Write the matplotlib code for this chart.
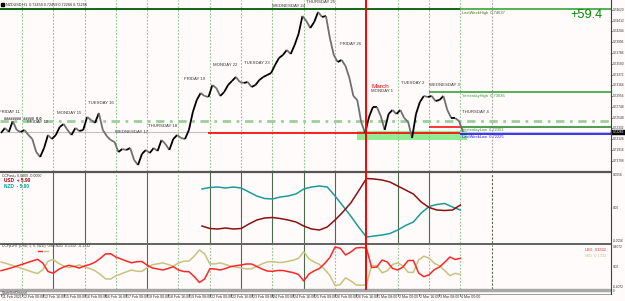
import matplotlib
matplotlib.use("Agg")
import matplotlib.pyplot as plt
import matplotlib.transforms as mtransforms
from matplotlib.patches import Rectangle
from matplotlib.collections import LineCollection
from matplotlib.lines import Line2D
import numpy as np

plt.rcParams['font.family'] = ['Liberation Sans', 'DejaVu Sans']

# ---------------- data ----------------
# NZDUSD H1, one close every 3 hours, starting 11 Feb 2021 08:00
close_step_bars = 3
closes = [
    0.72244, 0.72340, 0.72263, 0.72475, 0.72302, 0.72263, 0.72302, 0.72205, 0.72128, 0.71877,
    0.71781, 0.71954, 0.72205, 0.72128, 0.72205, 0.72360, 0.72417, 0.72302, 0.72205, 0.72340,
    0.72282, 0.72302, 0.72553, 0.72495, 0.72437, 0.72630, 0.72302, 0.72186, 0.72109, 0.72070,
    0.71877, 0.71935, 0.71916, 0.71954, 0.71723, 0.71626, 0.71839, 0.71916, 0.71858, 0.71954,
    0.71896, 0.72109, 0.72032, 0.71916, 0.72128, 0.72205, 0.72147, 0.72128, 0.72302, 0.72649,
    0.72881, 0.73016, 0.72958, 0.72939, 0.73170, 0.73112, 0.72958, 0.73035, 0.73170, 0.73248,
    0.73325, 0.73228, 0.73209, 0.73228, 0.73132, 0.73170, 0.73267, 0.73325, 0.73363, 0.73402,
    0.73556, 0.73691, 0.73749, 0.73845, 0.73769, 0.73942, 0.74155, 0.74502, 0.74405, 0.74270,
    0.74386, 0.74579, 0.74483, 0.74502, 0.74077, 0.73749, 0.73614, 0.73653, 0.73537, 0.73305,
    0.72958, 0.72881, 0.72456, 0.72244, 0.72553, 0.72746, 0.72746, 0.72572, 0.72302, 0.72611,
    0.72688, 0.72611, 0.72688, 0.72533, 0.72456, 0.72147, 0.72611, 0.72842, 0.72958, 0.72939,
    0.72958, 0.72861, 0.72881, 0.72958, 0.72688, 0.72533, 0.72533, 0.72475, 0.72263,
]

# CCFast panel (every 6 bars from bar 154)
ccf_start_bar = 154
ccf_step_bars = 6
ccf_usd = [
    -0.00288, -0.00328, -0.00336, -0.00320, -0.00336, -0.00328, -0.00256, -0.00192, -0.00160, -0.00152,
    -0.00168, -0.00192, -0.00224, -0.00288, -0.00336, -0.00352, -0.00304, -0.00192, -0.00064, 0.00080,
    0.00272, 0.00472, 0.00464, 0.00448, 0.00416, 0.00352, 0.00288, 0.00224, 0.00096, 0.00008,
    -0.00032, -0.00040, -0.00032, 0.00048,
]
ccf_nzd = [
    0.00304, 0.00328, 0.00336, 0.00320, 0.00336, 0.00320, 0.00256, 0.00192, 0.00152, 0.00144,
    0.00176, 0.00192, 0.00224, 0.00304, 0.00336, 0.00352, 0.00336, 0.00192, 0.00032, -0.00128,
    -0.00304, -0.00464, -0.00448, -0.00432, -0.00408, -0.00352, -0.00280, -0.00224, -0.00080, 0.00024,
    0.00056, 0.00072, 0.00016, -0.00032,
]

# CCFp oscillator panel (every 4 bars from bar 0)
osc_step_bars = 4
osc_usd = [
    -0.084, -0.056, -0.026, 0.008, 0.042, 0.076, 0.110, 0.144, 0.070, -0.100,
    -0.136, -0.060, -0.010, 0.024, 0.000, -0.030, 0.010, 0.040, 0.086, 0.160,
    0.250, 0.256, 0.190, 0.150, 0.110, 0.074, 0.096, 0.100, 0.026, -0.030,
    -0.050, -0.070, -0.040, -0.004, -0.070, -0.100, -0.104, -0.200, -0.320, -0.250,
    -0.046, -0.050, -0.070, -0.040, -0.002, 0.016, 0.030, 0.050, 0.050, 0.000,
    -0.050, -0.090, -0.096, -0.080, -0.080, -0.102, -0.124, -0.160, -0.290, -0.150,
    -0.086, -0.040, 0.060, 0.180, 0.390, 0.364, 0.230, 0.290, 0.370, 0.380,
    0.370, -0.020, -0.010, 0.130, 0.090, -0.038, -0.070, -0.010, 0.120, 0.120,
    -0.130, -0.204, -0.166, -0.064, -0.010, 0.084, 0.190, 0.140, 0.164,
]
osc_nzd = [
    0.090, 0.060, 0.030, -0.006, -0.040, -0.074, -0.110, -0.140, -0.066, 0.104,
    0.140, 0.064, 0.012, -0.022, 0.002, 0.032, -0.008, -0.040, -0.084, -0.156,
    -0.246, -0.252, -0.186, -0.148, -0.108, -0.070, -0.094, -0.098, -0.024, 0.034,
    0.054, 0.072, 0.042, 0.006, 0.072, 0.104, 0.108, 0.204, 0.330, 0.256,
    0.050, 0.052, 0.072, 0.042, 0.004, -0.014, -0.028, -0.048, -0.048, 0.002,
    0.052, 0.092, 0.098, 0.082, 0.082, 0.104, 0.126, 0.164, 0.296, 0.154,
    0.088, 0.042, -0.058, -0.176, -0.384, -0.360, -0.226, -0.286, -0.366, -0.376,
    -0.366, 0.024, 0.014, -0.126, -0.086, 0.040, 0.072, 0.012, -0.116, -0.118,
    0.132, 0.206, 0.168, 0.066, 0.012, -0.080, -0.186, -0.136, -0.160,
]

# levels
last_week_high = 0.74637
last_week_low = 0.72225
yesterday_high = 0.73036
yesterday_low = 0.72353
red_week_level = 0.72235
red_day_level = 0.72362
bid_price = 0.72266
dashdot_level = 0.72475
zone_top, zone_bottom = 0.72292, 0.72109

# time axis
tick_bars = [0, 16, 32, 48, 64, 80, 96, 112, 128, 144, 160, 176, 192, 208, 224, 240,
             256, 272, 288, 304, 320, 336, 352]
tick_labels = ["11 Feb 2021", "12 Feb 00:00", "12 Feb 16:00", "15 Feb 08:00", "16 Feb 00:00",
               "16 Feb 16:00", "17 Feb 08:00", "18 Feb 00:00", "18 Feb 16:00", "19 Feb 08:00",
               "22 Feb 00:00", "22 Feb 16:00", "23 Feb 08:00", "24 Feb 00:00", "24 Feb 16:00",
               "25 Feb 08:00", "26 Feb 00:00", "26 Feb 16:00", "1 Mar 08:00", "2 Mar 00:00",
               "2 Mar 16:00", "3 Mar 08:00", "4 Mar 00:00"]
day_start_bars = [16, 40, 64, 88, 112, 136, 160, 184, 208, 232, 256, 280, 304, 328, 352, 376]
month_start_bar = 280
day_names = ["FRIDAY 11", "FRIDAY 12", "MONDAY 15", "TUESDAY 16", "WEDNESDAY 17", "THURSDAY 18",
             "FRIDAY 19", "MONDAY 22", "TUESDAY 23", "WEDNESDAY 24", "THURSDAY 25", "FRIDAY 26",
             "MONDAY 1", "TUESDAY 2", "WEDNESDAY 3", "THURSDAY 4"]
price_ticks = [0.74620, 0.74412, 0.74204, 0.73996, 0.73788, 0.73580, 0.73372, 0.73164,
               0.72956, 0.72748, 0.72540, 0.72332, 0.72124, 0.71916, 0.71708]

# ---------------- layout ----------------
W, H = 625, 301
BG = '#fffbfb'
PX_PER_BAR = 1.305
fig = plt.figure(figsize=(W / 100, H / 100), dpi=100)
fig.patch.set_facecolor(BG)


def bar_at_px(x):
    return (x - 1.0) / PX_PER_BAR


def rect(x0, y0, x1, y1):
    return [x0 / W, 1 - y1 / H, (x1 - x0) / W, (y1 - y0) / H]


XL = (bar_at_px(0), bar_at_px(611))


def make_ax(y0, y1):
    a = fig.add_axes(rect(0, y0, 611, y1))
    a.set_facecolor(BG)
    a.set_xlim(*XL)
    for s in a.spines.values():
        s.set_visible(False)
    a.set_xticks([])
    a.set_yticks([])
    return a


def ftext(x, y, s, **kw):
    fig.text(x / W, 1 - y / H, s, **kw)


def fline(x0, y0, x1, y1, **kw):
    fig.add_artist(Line2D([x0 / W, x1 / W], [1 - y0 / H, 1 - y1 / H],
                          transform=fig.transFigure, **kw))


TXT = '#333333'
AX_FS = 2.35
SEP_LIGHT = dict(color='#8cc48c', lw=0.8, ls=(0, (1.5, 1.5)))
SEP_DARK = dict(color='#4d6b4d', lw=0.8)

# ---------------- main price window ----------------
ax = make_ax(0, 171)
PRICE_TOP = 0.748107
PRICE_PER_PX = 0.000193
ax.set_ylim(PRICE_TOP - 171 * PRICE_PER_PX, PRICE_TOP)


def py(ypx):
    return PRICE_TOP - ypx * PRICE_PER_PX


last_bar = (len(closes) - 1) * close_step_bars
right_bar = XL[1]

# day separators
for b in day_start_bars:
    if b == month_start_bar:
        continue
    if b > last_bar:
        ax.axvline(b, color='#a0a0a0', lw=0.8, ls=(0, (1.5, 1.5)))
    else:
        ax.axvline(b, **SEP_LIGHT)

# green zone
ax.add_patch(Rectangle((bar_at_px(357), zone_bottom), bar_at_px(467) - bar_at_px(357),
                       zone_top - zone_bottom, color='#93ec93', lw=0, zorder=1))

# bid line
ax.axhline(bid_price, color='#c8c0c0', lw=0.8, zorder=1)
# dash-dot line
ax.axhline(dashdot_level, color='#9ccf9c', lw=2.0, ls=(0, (3, 2, 1, 2)), zorder=2)

# levels
ax.hlines(last_week_high, XL[0], 352, color='#005a00', lw=1.3, zorder=3)
ax.hlines(last_week_high, 352, right_bar, color='#2a9a2a', lw=1.1, zorder=3)
ax.hlines(yesterday_high, 328, right_bar, color='#2a9a2a', lw=1.1, zorder=3)
ax.hlines(yesterday_low, 352, right_bar, color='#1f801f', lw=1.1, zorder=3)
ax.hlines(red_day_level, 328, 352, color='#ff0000', lw=1.1, zorder=3)
ax.hlines(red_week_level, 159, 352, color='#ff0000', lw=1.2, zorder=3)
ax.hlines(last_week_low, 352, right_bar, color='#0000ff', lw=1.1, zorder=3)

# price bars (one segment per 3h sample)
xs = np.arange(len(closes)) * close_step_bars
segs, cols = [], []
for i in range(1, len(closes)):
    segs.append([(xs[i - 1], closes[i - 1]), (xs[i], closes[i])])
    cols.append('#000000' if closes[i] >= closes[i - 1] else '#6f6f6f')
ax.add_collection(LineCollection(segs, colors=cols, linewidths=1.3, zorder=4,
                                 capstyle='butt'))

# month separator (red, spans all windows)
fline(1 + month_start_bar * PX_PER_BAR, 0, 1 + month_start_bar * PX_PER_BAR, 288.5,
      color='#ff0000', lw=1.4, zorder=10)

# day labels
day_label_px = [(-1, 112), (27, 122), (57, 113), (88, 103), (115, 132), (148, 126),
                (184, 79), (213, 65), (244, 63), (272, 6), (306, 2), (340, 44),
                (371, 91), (401, 83), (429, 85), (462, 112)]
for name, (xp, yp) in zip(day_names, day_label_px):
    ax.text(bar_at_px(xp), py(yp), name, fontsize=3.1, color=TXT, ha='left',
            va='center', zorder=6, clip_on=True)
ax.text(bar_at_px(372), py(86.5), "March", fontsize=4.6, color='#ff0000', ha='left',
        va='center', zorder=6)

# level labels
lab = dict(fontsize=2.9, ha='left', va='center', zorder=6)
ax.text(bar_at_px(462), py(13), "LastWeekHigh  0.74637", color='#4a6a1a', **lab)
ax.text(bar_at_px(462), py(96), "YesterdayHigh  0.73036", color='#3a9a3a', **lab)
ax.text(bar_at_px(462), py(130.5), "YesterdayLow  0.72353", color='#3a8a3a', **lab)
ax.text(bar_at_px(462), py(137.5), "LastWeekLow  0.72225", color='#2020ff', **lab)
ax.text(bar_at_px(4), py(119.5), "########  #####  0.0", color='#202020',
        fontsize=2.8, fontweight='bold', ha='left', va='center', zorder=6)

# big profit label
ftext(603, 15, "+59.4", fontsize=9.2, color='#008a00', ha='right', va='center')

# title
fig.add_artist(Rectangle((1.5 / W, 1 - 5.5 / H), 2.5 / W, 2.5 / H, color='#000000',
                         transform=fig.transFigure))
ftext(6, 4.2, "NZDUSD,H1  0.72459 0.72459 0.72266 0.72266", fontsize=2.7, color='#202020',
      ha='left', va='center')

# price axis labels
bt = mtransforms.blended_transform_factory(ax.transAxes, ax.transData)
for v in price_ticks:
    ax.text(612.5 / 611, v, f"{v:.5f}", transform=bt, fontsize=AX_FS, color='#303030',
            ha='left', va='center', clip_on=False)
    ax.add_line(Line2D([1.0, 612.5 / 611], [v, v], transform=bt, color='#404040', lw=0.5,
                       clip_on=False))
ax.add_patch(Rectangle((1.0, bid_price - 0.00034), 14 / 611, 0.00068, transform=bt,
                       color='#000000', clip_on=False, zorder=8))
ax.text(612.5 / 611, bid_price, f"{bid_price:.5f}", transform=bt, fontsize=AX_FS,
        color='white', ha='left', va='center', clip_on=False, zorder=9)

# ---------------- CCFast panel ----------------
ax1 = make_ax(173, 243)
ax1.set_ylim(-0.0056, 0.0056)
p1_dark = {53, 84, 147, 209, 241, 272, 304, 335, 397, 429}
for b in day_start_bars:
    if b == month_start_bar:
        continue
    xp = round(1 + b * PX_PER_BAR)
    if b > last_bar:
        ax1.axvline(b, color='#556655', lw=0.8, ls=(0, (2, 1.5)))
    elif xp in p1_dark or xp + 1 in p1_dark or xp - 1 in p1_dark:
        ax1.axvline(b, **SEP_DARK)
    else:
        ax1.axvline(b, **SEP_LIGHT)
cx = ccf_start_bar + np.arange(len(ccf_usd)) * ccf_step_bars
ax1.plot(cx, ccf_nzd, color='#1e9a9a', lw=1.1, zorder=4)
ax1.plot(cx, ccf_usd, color='#8b1010', lw=1.1, zorder=4)
ftext(2, 176, "CCFast+ 0.0000 -0.0000", fontsize=2.6, color='#303030', ha='left', va='center')
ftext(4, 181, "USD  + 5.90", fontsize=3.4, color='#9a0000', fontweight='bold', ha='left',
      va='center')
ftext(4, 186.5, "NZD  - 5.90", fontsize=3.4, color='#009999', fontweight='bold', ha='left',
      va='center')
for yv, s in [(175, "0.0056"), (208, "0.00"), (240.5, "-0.0056")]:
    ftext(612.5, yv, s, fontsize=AX_FS, color='#303030', ha='left', va='center')

# ---------------- CCFp oscillator panel ----------------
ax2 = make_ax(244.5, 288.5)
ax2.set_ylim(-0.44, 0.44)
p2_dark = {53, 147, 241, 304}
for b in day_start_bars:
    if b == month_start_bar:
        continue
    xp = round(1 + b * PX_PER_BAR)
    if b > last_bar:
        ax2.axvline(b, color='#556655', lw=0.8, ls=(0, (2, 1.5)))
    elif xp in p2_dark or xp + 1 in p2_dark or xp - 1 in p2_dark:
        ax2.axvline(b, **SEP_DARK)
    else:
        ax2.axvline(b, **SEP_LIGHT)
ox = np.arange(len(osc_usd)) * osc_step_bars
ax2.plot(ox, osc_nzd, color='#c9c27e', lw=1.1, zorder=4)
ax2.plot(ox, osc_usd, color='#ff2626', lw=1.1, zorder=5)
ftext(2, 246, "CCFp+HT (USD, 5, 6, NZD)  USD:NZD  0.1332  -0.1332", fontsize=2.5,
      color='#303030', ha='left', va='center')
fline(37.5, 250.5, 41.5, 250.5, color='#ff2626', lw=1.0)
fline(43.5, 250.5, 47.5, 250.5, color='#c9c27e', lw=1.0)
ftext(585, 250, "USD", fontsize=2.8, color='#ff2626', ha='left', va='center')
ftext(607, 250, "0.1332", fontsize=2.8, color='#ff2626', ha='right', va='center')
ftext(585, 256, "NZD", fontsize=2.8, color='#c9c27e', ha='left', va='center')
ftext(607, 256, "-0.1332", fontsize=2.8, color='#c9c27e', ha='right', va='center')
for yv, s in [(246.5, "0.4072"), (267, "0.00"), (287, "-0.4072")]:
    ftext(612.5, yv, s, fontsize=AX_FS, color='#303030', ha='left', va='center')

# ---------------- separators / frame ----------------
fline(0, 172, 611, 172, color='#555555', lw=1.6)
fline(0, 243.8, 611, 243.8, color='#555555', lw=1.3)
fig.add_artist(Rectangle((0, 1 - 291.2 / H), 611 / W, 2.7 / H, color='#a8a8a8',
                         transform=fig.transFigure))
ftext(2, 292.6, "QuoteGetChannel", fontsize=2.3, color='#303030', ha='left', va='center')
fline(0, 294.3, 611, 294.3, color='#909090', lw=0.6)
ftext(612.5, 291, "0", fontsize=AX_FS, color='#303030', ha='left', va='center')
fline(611, 0, 611, 294.3, color='#404040', lw=0.8)

# time axis labels
for b, s in zip(tick_bars, tick_labels):
    xp = 1 + b * PX_PER_BAR
    fline(xp, 294.3, xp, 296, color='#404040', lw=0.5)
    ftext(xp + 1, 297.5, s, fontsize=2.6, color='#303030', ha='left', va='center')

fig.savefig("out.png", dpi=100, facecolor=BG)
